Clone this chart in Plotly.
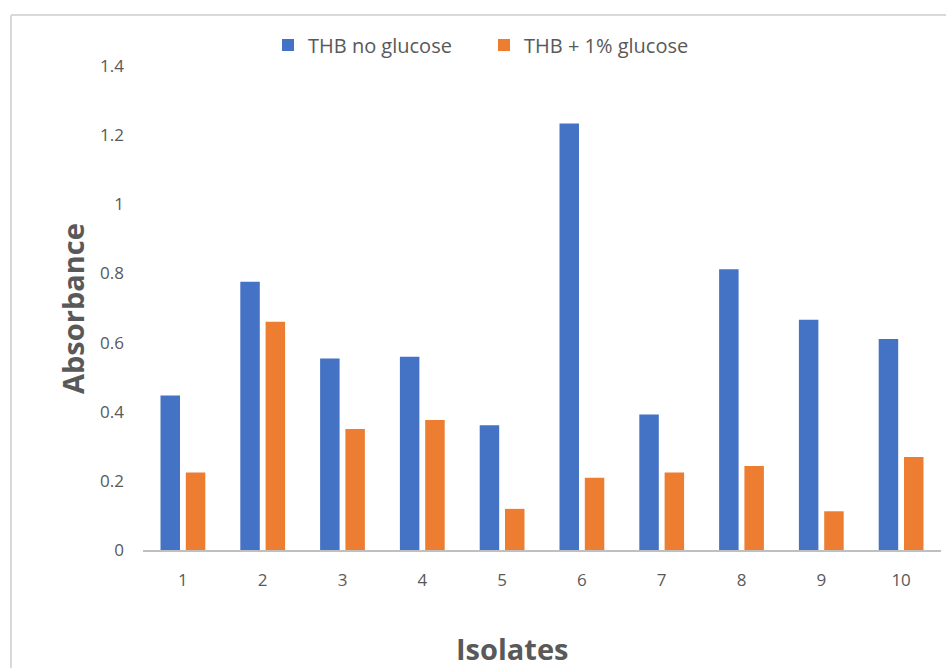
import plotly.graph_objects as go

# Biofilm absorbance per isolate, with and without added glucose
isolates = ["1", "2", "3", "4", "5", "6", "7", "8", "9", "10"]
thb_no_glucose = [0.447, 0.776, 0.554, 0.559, 0.361, 1.234, 0.392, 0.812, 0.666, 0.610]
thb_glucose = [0.224, 0.660, 0.350, 0.376, 0.119, 0.209, 0.224, 0.243, 0.112, 0.269]
y_ticks = [0, 0.2, 0.4, 0.6, 0.8, 1.0, 1.2, 1.4]
y_tick_text = ["0", "0.2", "0.4", "0.6", "0.8", "1", "1.2", "1.4"]

FONT = "Open Sans"
GRAY = "#595959"

fig = go.Figure()
fig.add_trace(go.Bar(x=isolates, y=thb_no_glucose, name="THB no glucose",
                     marker=dict(color="#4472C4", line=dict(width=0))))
fig.add_trace(go.Bar(x=isolates, y=thb_glucose, name="THB + 1% glucose",
                     marker=dict(color="#ED7D31", line=dict(width=0))))

W, H = 946, 668
ML, MR, MT, MB = 143, 5, 66, 118
pw, ph = W - ML - MR, H - MT - MB

def px_x(x):
    return (x - ML) / pw

def px_y(y):
    return 1 - (y - MT) / ph

fig.update_layout(
    width=W, height=H,
    margin=dict(l=ML, r=MR, t=MT, b=MB, pad=0),
    paper_bgcolor="white", plot_bgcolor="white",
    barmode="group", bargap=0.366, bargroupgap=0.23,
    font=dict(family=FONT, color=GRAY),
    showlegend=True,
    legend=dict(orientation="h", x=px_x(268), xanchor="left",
                y=px_y(45), yanchor="middle",
                font=dict(family=FONT, size=20, color=GRAY),
                entrywidth=171, entrywidthmode="pixels",
                bgcolor="rgba(0,0,0,0)", itemclick=False,
                traceorder="normal"),
    xaxis=dict(showgrid=False, zeroline=False, showline=True,
               linecolor="#BFBFBF", linewidth=2, ticks="",
               tickfont=dict(family=FONT, size=17, color=GRAY),
               ticklabelstandoff=14),
    yaxis=dict(range=[0, 1.4], tickvals=y_ticks, ticktext=y_tick_text,
               showgrid=False, zeroline=False, showline=False, ticks="",
               tickfont=dict(family=FONT, size=17, color=GRAY),
               ticklabelstandoff=18),
    annotations=[
        dict(text="<b>Absorbance</b>", textangle=-90, x=px_x(72), y=px_y(309),
             xref="paper", yref="paper", showarrow=False,
             xanchor="center", yanchor="middle",
             font=dict(family=FONT, size=29, color=GRAY)),
        dict(text="<b>Isolates</b>", x=px_x(512), y=px_y(648),
             xref="paper", yref="paper", showarrow=False,
             xanchor="center", yanchor="middle",
             font=dict(family=FONT, size=29, color=GRAY)),
    ],
    shapes=[
        dict(type="line", xref="paper", yref="paper",
             x0=px_x(11), x1=px_x(960), y0=px_y(15), y1=px_y(15),
             line=dict(color="#D9D9D9", width=2)),
        dict(type="line", xref="paper", yref="paper",
             x0=px_x(11), x1=px_x(11), y0=px_y(15), y1=px_y(700),
             line=dict(color="#D9D9D9", width=2)),
    ],
)

fig.write_html("out.html")
